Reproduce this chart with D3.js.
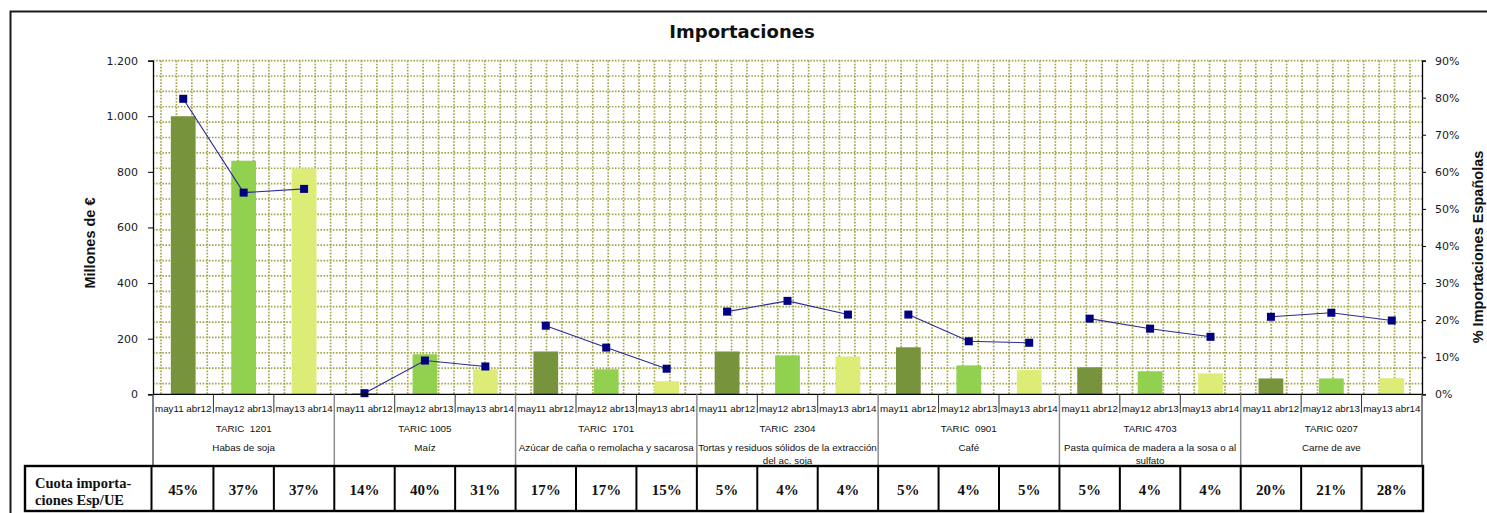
<!DOCTYPE html>
<html>
<head>
<meta charset="utf-8">
<script src="https://cdn.jsdelivr.net/npm/d3@7"></script>
<style>
  html, body { margin: 0; padding: 0; background: #fff; }
  svg { display: block; }
</style>
</head>
<body>
<svg id="chart" width="1487" height="513"></svg>
<script>
// ---- Data ----------------------------------------------------------------
const periods = ["may11 abr12", "may12 abr13", "may13 abr14"];
const taricCodes = ["TARIC  1201", "TARIC 1005", "TARIC  1701", "TARIC  2304", "TARIC  0901", "TARIC 4703", "TARIC 0207"];
const productNames = [
  ["Habas de soja"],
  ["Maíz"],
  ["Azúcar de caña o remolacha y sacarosa"],
  ["Tortas y residuos sólidos de la extracción", "del ac. soja"],
  ["Café"],
  ["Pasta química de madera a la sosa o al", "sulfato"],
  ["Carne de ave"]
];
// Imports (millions of €) per period, one value per product
const importsP1 = [1000, 3, 154, 154, 169, 97, 57];
const importsP2 = [840, 144, 90, 140, 104, 83, 57];
const importsP3 = [812, 90, 47, 136, 87, 75, 58];
// Spanish share of imports (%) per product, three periods each
const spanishShare = [
  [79.7, 54.4, 55.4],
  [0.3, 9.1, 7.5],
  [18.5, 12.6, 6.9],
  [22.3, 25.2, 21.5],
  [21.5, 14.3, 13.9],
  [20.4, 17.7, 15.5],
  [20.9, 22.0, 19.9]
];
// Spain / EU import quota (%) shown in the table row
const quotaEspUE = [
  [45, 37, 37],
  [14, 40, 31],
  [17, 17, 15],
  [5, 4, 4],
  [5, 4, 5],
  [5, 4, 4],
  [20, 21, 28]
];
const leftTicks = [0, 200, 400, 600, 800, 1000, 1200];
const rightTicks = [0, 10, 20, 30, 40, 50, 60, 70, 80, 90];
const periodColors = ["#77933C", "#92D050", "#DDEC76"];

// ---- Layout --------------------------------------------------------------
const svg = d3.select("#chart");
const plot = { left: 153, right: 1422, top: 60.6, bottom: 394.3 };

const groups = d3.range(taricCodes.length);
const x0 = d3.scaleBand().domain(groups).range([plot.left, plot.right]).padding(0);
const x1 = d3.scaleBand().domain(periods).range([0, x0.bandwidth()]).padding(0);
const barW = x1.bandwidth() * 0.41;
const y = d3.scaleLinear().domain([0, 1200]).range([plot.bottom, plot.top]);
const y2 = d3.scaleLinear().domain([0, 90]).range([plot.bottom, plot.top]);

const esLocale = d3.formatLocale({ decimal: ",", thousands: ".", grouping: [3], currency: ["", " €"] });
const fmtThousands = esLocale.format(",");

// Outer chart frame
svg.append("path")
  .attr("d", `M10.5,513 L10.5,11.5 L1487,11.5`)
  .attr("fill", "none").attr("stroke", "#1a1a1a").attr("stroke-width", 2);

// Title
svg.append("text")
  .attr("x", 742).attr("y", 38)
  .attr("text-anchor", "middle")
  .attr("font-family", "DejaVu Sans, Verdana, sans-serif")
  .attr("font-weight", "bold").attr("font-size", 18)
  .attr("fill", "#111")
  .text("Importaciones");

// Dotted grid fill of the plot area
const grid = svg.append("g").attr("class", "grid");
const gridStep = 15.42;
const vx = d3.range(plot.left + 8, plot.right, gridStep);
const hy = d3.range(plot.top, plot.bottom, 15.38);
grid.selectAll("line.v").data(vx).join("line")
  .attr("x1", d => d).attr("x2", d => d)
  .attr("y1", plot.top).attr("y2", plot.bottom)
  .attr("stroke", "#A5A548").attr("stroke-width", 1.7)
  .attr("stroke-dasharray", "1.6 1.5");
grid.selectAll("line.h").data(hy).join("line")
  .attr("x1", plot.left).attr("x2", plot.right)
  .attr("y1", d => d).attr("y2", d => d)
  .attr("stroke", "#A5A548").attr("stroke-width", 1.7)
  .attr("stroke-dasharray", "1.6 1.5");

// Bars
const seriesValues = [importsP1, importsP2, importsP3];
const barData = [];
groups.forEach(g => periods.forEach((p, i) => barData.push({ g, p, i, v: seriesValues[i][g] })));
svg.append("g").selectAll("rect").data(barData).join("rect")
  .attr("x", d => x0(d.g) + x1(d.p) + (x1.bandwidth() - barW) / 2)
  .attr("width", barW)
  .attr("y", d => y(d.v))
  .attr("height", d => y(0) - y(d.v))
  .attr("fill", d => periodColors[d.i]);

// Spanish share line, one segment per product
const lineGen = d3.line()
  .x(d => x0(d.g) + x1(periods[d.i]) + x1.bandwidth() / 2)
  .y(d => y2(d.v));
const linePts = groups.map(g => spanishShare[g].map((v, i) => ({ g, i, v })));
svg.append("g").selectAll("path").data(linePts).join("path")
  .attr("d", lineGen)
  .attr("fill", "none").attr("stroke", "#2B2B96").attr("stroke-width", 1.1);
svg.append("g").selectAll("rect").data(linePts.flat()).join("rect")
  .attr("x", d => x0(d.g) + x1(periods[d.i]) + x1.bandwidth() / 2 - 4)
  .attr("y", d => y2(d.v) - 4)
  .attr("width", 8).attr("height", 8)
  .attr("fill", "#000080");

// Axes
const axisFont = "DejaVu Sans, Verdana, sans-serif";
const leftAxis = svg.append("g").attr("transform", `translate(${plot.left},0)`)
  .call(d3.axisLeft(y).tickValues(leftTicks).tickSize(5).tickPadding(10).tickFormat(fmtThousands));
const rightAxis = svg.append("g").attr("transform", `translate(${plot.right},0)`)
  .call(d3.axisRight(y2).tickValues(rightTicks).tickSize(4).tickPadding(9).tickFormat(d => d + "%"));
[leftAxis, rightAxis].forEach(a => {
  a.select(".domain").attr("stroke", "#000").attr("stroke-width", 1.3);
  a.selectAll(".tick line").attr("stroke", "#000");
  a.selectAll(".tick text").attr("font-family", axisFont).attr("font-size", 11).attr("fill", "#1a1a1a");
});

// Baseline
svg.append("line")
  .attr("x1", plot.left).attr("x2", plot.right)
  .attr("y1", y(0)).attr("y2", y(0))
  .attr("stroke", "#000").attr("stroke-width", 1.3);

// Axis titles
svg.append("text")
  .attr("transform", `translate(95,243) rotate(-90)`)
  .attr("text-anchor", "middle")
  .attr("font-family", "Liberation Sans, Arial, sans-serif")
  .attr("font-weight", "bold").attr("font-size", 14.5).attr("fill", "#111")
  .text("Millones de €");
svg.append("text")
  .attr("transform", `translate(1483,247) rotate(-90)`)
  .attr("text-anchor", "middle")
  .attr("font-family", "Liberation Sans, Arial, sans-serif")
  .attr("font-weight", "bold").attr("font-size", 14.5).attr("fill", "#111")
  .text("% Importaciones Españolas");

// Category axis: period labels, product codes and names
const catFont = "Liberation Sans, Arial, sans-serif";
const xa = svg.append("g");
const catBounds = [];
groups.forEach(g => periods.forEach((p, i) => { if (i > 0) catBounds.push(x0(g) + x1(p)); }));
xa.selectAll("line.cat").data(catBounds).join("line")
  .attr("x1", d => d).attr("x2", d => d)
  .attr("y1", plot.bottom).attr("y2", 413)
  .attr("stroke", "#333").attr("stroke-width", 1);
const groupBounds = groups.map(g => x0(g)).concat([plot.right]);
xa.selectAll("line.grp").data(groupBounds).join("line")
  .attr("x1", d => d).attr("x2", d => d)
  .attr("y1", plot.bottom).attr("y2", 465)
  .attr("stroke", (d, i) => (i === 0 || i === groupBounds.length - 1) ? "#555" : "#8c8c8c")
  .attr("stroke-width", 1.5);
xa.selectAll("text.per").data(barData).join("text")
  .attr("x", d => x0(d.g) + x1(d.p) + x1.bandwidth() / 2)
  .attr("y", 411.5)
  .attr("text-anchor", "middle")
  .attr("font-family", catFont).attr("font-size", 9.8).attr("fill", "#111")
  .text(d => d.p);
xa.selectAll("text.code").data(groups).join("text")
  .attr("x", g => x0(g) + x0.bandwidth() / 2)
  .attr("y", 431.5)
  .attr("text-anchor", "middle")
  .attr("font-family", catFont).attr("font-size", 9.8).attr("fill", "#111")
  .attr("xml:space", "preserve")
  .text(g => taricCodes[g]);
const nameText = xa.selectAll("text.name").data(groups).join("text")
  .attr("text-anchor", "middle")
  .attr("font-family", catFont).attr("font-size", 9.8).attr("fill", "#111");
nameText.selectAll("tspan").data(g => productNames[g].map(line => ({ g, line }))).join("tspan")
  .attr("x", d => x0(d.g) + x0.bandwidth() / 2)
  .attr("y", (d, i) => 450.5 + i * 13.2)
  .text(d => d.line);

// Quota table
const table = svg.append("g");
const tTop = 466, tBot = 511;
table.append("rect")
  .attr("x", 25).attr("y", tTop)
  .attr("width", plot.right + 1 - 25).attr("height", tBot - tTop)
  .attr("fill", "none").attr("stroke", "#000").attr("stroke-width", 2.4);
const colLines = [plot.left - 1.5].concat(catBounds, groupBounds.slice(1, -1));
table.selectAll("line").data(colLines).join("line")
  .attr("x1", d => d).attr("x2", d => d)
  .attr("y1", tTop).attr("y2", tBot)
  .attr("stroke", "#000").attr("stroke-width", 2);
const headFont = "Liberation Serif, Times New Roman, serif";
table.append("text")
  .attr("font-family", headFont).attr("font-weight", "bold").attr("font-size", 14.5).attr("fill", "#111")
  .selectAll("tspan").data(["Cuota importa-", "ciones Esp/UE"]).join("tspan")
  .attr("x", 35).attr("y", (d, i) => 488 + i * 17)
  .text(d => d);
table.selectAll("text.q").data(barData).join("text")
  .attr("x", d => x0(d.g) + x1(d.p) + x1.bandwidth() / 2)
  .attr("y", 495)
  .attr("text-anchor", "middle")
  .attr("font-family", headFont).attr("font-weight", "bold").attr("font-size", 15).attr("fill", "#111")
  .text(d => quotaEspUE[d.g][d.i] + "%");
</script>
</body>
</html>
